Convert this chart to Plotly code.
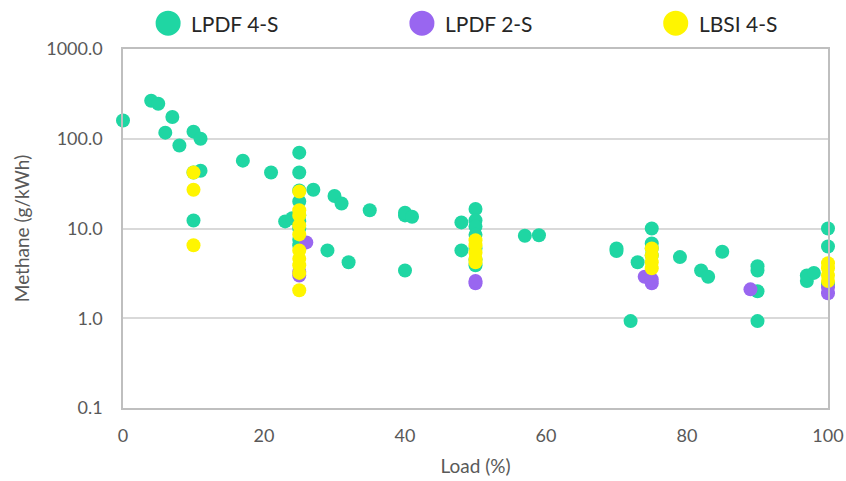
import plotly.graph_objects as go

# LPDF 4-S
lpdf4_load = [0, 4, 5, 6, 7, 8, 10, 11, 11, 10, 10, 17, 21, 23, 24,
              25, 25, 25, 25, 25, 25, 25, 25, 25, 27, 30, 31, 29, 32, 35,
              40, 40, 41, 40, 48, 48, 50, 50, 50, 50, 50, 50, 50, 57, 59,
              70, 70, 72, 73, 75, 75, 75, 75, 79, 82, 83, 85,
              90, 90, 90, 90, 97, 97, 98, 100, 100, 100]
lpdf4_ch4 = [160, 265, 245, 117, 175, 84, 120, 100, 44, 42, 12.3, 57, 42, 12.0, 13.0,
             70, 42, 26.5, 20, 14, 12, 10, 7.5, 6.5, 27, 23, 19, 5.7, 4.2, 16,
             14, 15, 13.5, 3.4, 11.7, 5.7, 16.5, 12.3, 10.5, 8.5, 6.0, 4.5, 3.9, 8.3, 8.4,
             6.0, 5.6, 0.93, 4.2, 10, 6.8, 6.0, 5.0, 4.8, 3.4, 2.9, 5.5,
             3.8, 3.4, 2.0, 0.93, 2.6, 3.0, 3.2, 10, 6.3, 2.4]

# LPDF 2-S
lpdf2_load = [25, 25, 26, 50, 50, 74, 75, 75, 89, 100, 100]
lpdf2_ch4 = [3.0, 3.3, 7.0, 2.45, 2.6, 2.9, 2.45, 2.7, 2.1, 1.9, 2.2]

# LBSI 4-S
lbsi_load = [10, 10, 10, 25, 25, 25, 25, 25, 25, 25, 25, 25, 25,
             50, 50, 50, 50, 50, 75, 75, 75, 75, 100, 100, 100, 100]
lbsi_ch4 = [42, 27, 6.5, 25.8, 16, 14, 10.8, 8.6, 5.7, 4.6, 3.9, 3.2, 2.05,
            7.4, 6.5, 5.4, 4.6, 4.2, 6.0, 5.0, 4.2, 3.6, 4.1, 3.6, 3.0, 2.6]

series_names = ["LPDF 4-S", "LPDF 2-S", "LBSI 4-S"]
series_loads = [lpdf4_load, lpdf2_load, lbsi_load]
series_ch4 = [lpdf4_ch4, lpdf2_ch4, lbsi_ch4]
series_colors = ["#1FD6A3", "#9966F0", "#FFF500"]

y_ticks = [0.1, 1, 10, 100, 1000]
y_ticktext = ["0.1", "1.0", "10.0", "100.0", "1000.0"]
x_ticks = [0, 20, 40, 60, 80, 100]

FONT = "Lato, 'Open Sans', sans-serif"

fig = go.Figure()
for name, xs, ys, col in zip(series_names, series_loads, series_ch4, series_colors):
    fig.add_trace(go.Scatter(
        x=xs, y=ys, mode="markers", name=name, showlegend=False,
        marker=dict(size=14, color=col, line=dict(width=0)),
        cliponaxis=False,
    ))

# legend drawn above the plot (large circular keys as in the original)
legend_x = [0.064, 0.424, 0.784]
legend_y = 1.072
for lx, name, col in zip(legend_x, series_names, series_colors):
    fig.add_shape(type="circle", xref="paper", yref="paper",
                  xsizemode="pixel", ysizemode="pixel",
                  xanchor=lx, yanchor=legend_y,
                  x0=-12.5, x1=12.5, y0=-12.5, y1=12.5,
                  fillcolor=col, line=dict(width=0))
    fig.add_annotation(x=lx, y=legend_y, xref="paper", yref="paper",
                       text=name, showarrow=False, xanchor="left", yanchor="middle",
                       xshift=21, font=dict(family=FONT, size=21, color="#262626"))

fig.update_layout(
    width=846, height=481,
    margin=dict(l=123, r=18, t=49, b=73, autoexpand=False),
    paper_bgcolor="white", plot_bgcolor="white",
    font=dict(family=FONT, color="#595959", size=18),
    showlegend=False,
    xaxis=dict(range=[0, 100], tickvals=x_ticks, showgrid=False, zeroline=False,
               showline=True, linecolor="#BFBFBF", linewidth=1.5, mirror=True,
               ticks="", ticklabelstandoff=11, ticklabeloverflow="allow",
               title=dict(text="Load (%)", standoff=14, font=dict(size=19))),
    yaxis=dict(type="log", range=[-1, 3], tickvals=y_ticks, ticktext=y_ticktext,
               showgrid=True, gridcolor="#D9D9D9", gridwidth=1.5, zeroline=False,
               showline=True, linecolor="#BFBFBF", linewidth=1.5, mirror=True,
               ticks="", ticklabelstandoff=15, ticklabeloverflow="allow",
               title=dict(text="Methane (g/kWh)", standoff=12, font=dict(size=19))),
)

fig.write_html(
    "out.html",
    config={"displayModeBar": False},
    post_script="document.body.style.margin='0';document.body.style.overflow='hidden';",
)
